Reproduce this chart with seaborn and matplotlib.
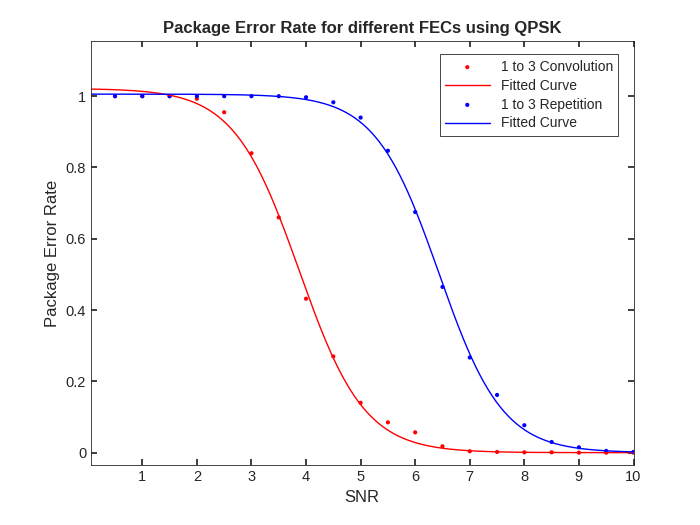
import numpy as np
import matplotlib
matplotlib.use("Agg")
import matplotlib.pyplot as plt
import seaborn as sns

snr = [0.5,1,1.5,2,2.5,3,3.5,4,4.5,5,5.5,6,6.5,7,7.5,8,8.5,9,9.5,10]
conv = [1.0,1.0,1.0,0.993,0.955,0.84,0.66,0.432,0.27,0.14,0.085,0.057,0.018,0.004,0.002,0.001,0.001,0.0,0.0,0.0]
rep = [1.0,1.0,1.0,1.0,1.0,1.0,1.0,0.997,0.983,0.94,0.847,0.675,0.465,0.267,0.162,0.077,0.03,0.015,0.005,0.002]

def logistic(x, p):
    a, b, c = p
    return a / (1 + np.exp(b * (x - c)))

def fit(x, y, p0):
    x = np.asarray(x, float); y = np.asarray(y, float)
    p = np.array(p0, float)
    for _ in range(200):
        r = y - logistic(x, p)
        J = np.zeros((len(x), 3))
        for i in range(3):
            dp = np.zeros(3); dp[i] = 1e-6
            J[:, i] = (logistic(x, p + dp) - logistic(x, p)) / 1e-6
        step = np.linalg.lstsq(J, r, rcond=None)[0]
        p = p + 0.5 * step
    return p

sns.set_theme(style="white")
plt.rcParams['font.family'] = ['Liberation Sans', 'DejaVu Sans']
fig, ax = plt.subplots(figsize=(7, 5.25), dpi=100)
fig.subplots_adjust(left=0.13, right=0.905, top=0.922, bottom=0.114)

xs = np.linspace(0.06, 10, 400)
pc = fit(snr, conv, [1, 2, 3.8])
pr = fit(snr, rep, [1, 2, 6.4])

sns.scatterplot(x=snr, y=conv, ax=ax, color='red', s=9, edgecolor='none', label='1 to 3 Convolution')
sns.lineplot(x=xs, y=logistic(xs, pc), ax=ax, color='red', lw=1, label='Fitted Curve')
sns.scatterplot(x=snr, y=rep, ax=ax, color='blue', s=9, edgecolor='none', label='1 to 3 Repetition')
sns.lineplot(x=xs, y=logistic(xs, pr), ax=ax, color='blue', lw=1, label='Fitted Curve')

ax.set_xlim(0.06, 10)
ax.set_ylim(-0.035, 1.155)
ax.set_xticks(range(1, 11))
ax.set_yticks([0, 0.2, 0.4, 0.6, 0.8, 1])
ax.set_yticklabels(['0', '0.2', '0.4', '0.6', '0.8', '1'])
ax.tick_params(direction='in', length=4, labelsize=10.5, colors='#262626', top=True, right=True, bottom=True, left=True)
for s in ax.spines.values():
    s.set_color('#262626'); s.set_linewidth(0.6)
ax.set_xlabel('SNR', fontsize=12, color='#262626')
ax.set_ylabel('Package Error Rate', fontsize=12, color='#262626')
ax.set_title('Package Error Rate for different FECs using QPSK', fontsize=12, fontweight='bold')
leg = ax.legend(loc='upper right', bbox_to_anchor=(0.985, 0.985), fontsize=10, frameon=True, fancybox=False,
                edgecolor='#262626', framealpha=1, handlelength=3.2, borderpad=0.4, labelspacing=0.35)
leg.get_frame().set_linewidth(0.6)
fig.savefig('out.png')
